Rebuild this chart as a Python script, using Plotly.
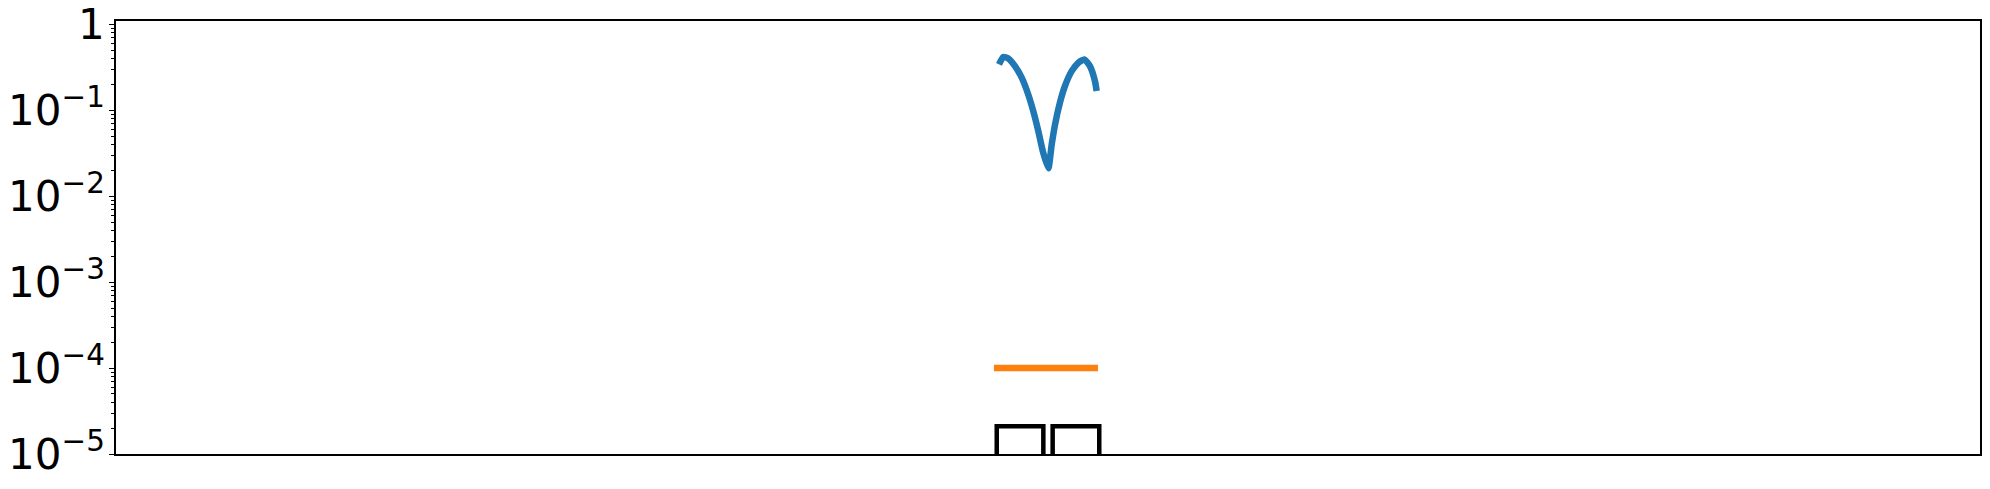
import plotly.graph_objects as go

# Blue curve (x position, value)
curve_x = [47.37, 47.60, 47.87, 48.23, 48.59, 48.94, 49.21, 49.48, 49.72, 50.02,
           50.20, 50.38, 50.64, 50.91, 51.27, 51.63, 51.95, 52.25, 52.52, 52.61]
curve_y = [0.343, 0.417, 0.402, 0.327, 0.240, 0.153, 0.098, 0.0574, 0.0336, 0.0212,
           0.0402, 0.0687, 0.123, 0.192, 0.286, 0.359, 0.392, 0.327, 0.219, 0.168]

# Orange flat line
flat_x = [47.1, 52.68]
flat_y = [1e-4, 1e-4]

# Outlined bars
bar_x = [48.5, 51.5]
bar_y = [2.1e-5, 2.1e-5]
bar_width = 2.5

tick_vals = [1e-5, 1e-4, 1e-3, 1e-2, 1e-1, 1]
tick_text = ["10<sup>−5</sup>", "10<sup>−4</sup>", "10<sup>−3</sup>",
             "10<sup>−2</sup>", "10<sup>−1</sup>", "1"]

fig = go.Figure()
fig.add_trace(go.Bar(x=bar_x, y=bar_y, width=bar_width,
                     marker=dict(color="white", line=dict(color="black", width=4.5)),
                     showlegend=False))
fig.add_trace(go.Scatter(x=curve_x, y=curve_y, mode="lines",
                         line=dict(color="#1f77b4", width=6.5, shape="spline", smoothing=0.5),
                         showlegend=False))
fig.add_trace(go.Scatter(x=flat_x, y=flat_y, mode="lines",
                         line=dict(color="#ff7f0e", width=6.5),
                         showlegend=False))

fig.update_layout(
    width=1990, height=489,
    margin=dict(l=108, r=18, t=13, b=43, autoexpand=False),
    paper_bgcolor="white", plot_bgcolor="white",
    font=dict(family="DejaVu Sans", size=37, color="black"),
    showlegend=False,
)
fig.update_xaxes(range=[0, 100], showticklabels=False, ticks="", showgrid=False, automargin=False,
                 zeroline=False, showline=True, linecolor="black", linewidth=1.5, mirror=True)
fig.update_yaxes(type="log", range=[-5, 0.04], tickmode="array", tickvals=tick_vals,
                 ticktext=tick_text, ticks="outside", ticklen=5, tickwidth=1.2, tickcolor="black",
                 ticklabeloverflow="allow", ticklabelstandoff=-4,
                 minor=dict(ticks="outside", ticklen=3, tickwidth=1, tickcolor="black", dtick="D1", showgrid=False),
                 showgrid=False, zeroline=False, showline=True, linecolor="black", automargin=False,
                 linewidth=1.5, mirror=True, tickfont=dict(family="DejaVu Sans", size=42, color="black"))

fig.write_html("out.html")
